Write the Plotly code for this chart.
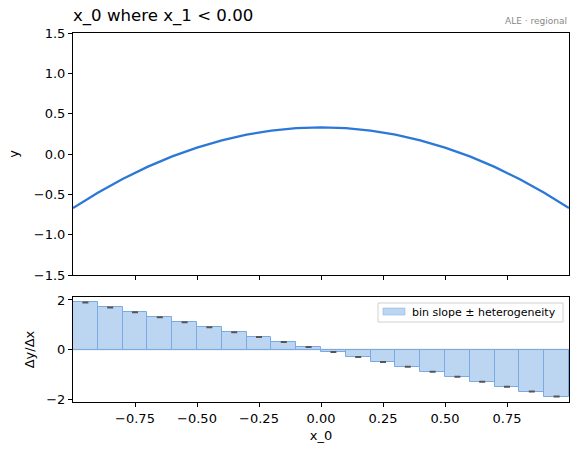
import plotly.graph_objects as go

# ALE curve (bin edges)
x_grid = [-1.0, -0.9, -0.8, -0.7, -0.6, -0.5, -0.4, -0.3, -0.2, -0.1, 0.0,
          0.1, 0.2, 0.3, 0.4, 0.5, 0.6, 0.7, 0.8, 0.9, 1.0]
ale_y = [-0.67, -0.48, -0.31, -0.16, -0.03, 0.08, 0.17, 0.24, 0.29, 0.32, 0.33,
         0.32, 0.29, 0.24, 0.17, 0.08, -0.03, -0.16, -0.31, -0.48, -0.67]

# Bin slopes
bin_centers = [-0.95, -0.85, -0.75, -0.65, -0.55, -0.45, -0.35, -0.25, -0.15, -0.05,
               0.05, 0.15, 0.25, 0.35, 0.45, 0.55, 0.65, 0.75, 0.85, 0.95]
bin_slopes = [1.9, 1.7, 1.5, 1.3, 1.1, 0.9, 0.7, 0.5, 0.3, 0.1,
              -0.1, -0.3, -0.5, -0.7, -0.9, -1.1, -1.3, -1.5, -1.7, -1.9]
bin_het = [0.01] * 20

W, H = 578, 455
xd = [73 / W, 569 / W]
y1 = [1 - 275 / H, 1 - 33 / H]
y2 = [1 - 402 / H, 1 - 297 / H]

BAR_FILL = "rgba(160,196,236,0.7)"
BAR_EDGE = "#7aaae6"

fig = go.Figure()
fig.add_trace(go.Scatter(x=x_grid, y=ale_y, mode="lines", line=dict(color="#2b78d8", width=2.3),
                         showlegend=False, xaxis="x", yaxis="y"))
fig.add_trace(go.Bar(x=bin_centers, y=bin_slopes, width=0.1, name="bin slope ± heterogeneity",
                     marker=dict(color=BAR_FILL, line=dict(color=BAR_EDGE, width=1)),
                     error_y=dict(type="data", array=bin_het, color="#555555", thickness=1.5, width=3),
                     xaxis="x2", yaxis="y2", showlegend=False))

axis_common = dict(showline=True, linecolor="black", linewidth=1, mirror=True, ticks="outside",
                   ticklen=4, tickcolor="black", showgrid=False, zeroline=False, automargin=False,
                   tickfont=dict(family="DejaVu Sans", size=13, color="black"))

# legend (drawn in paper coordinates)
lx0, lx1, ly0, ly1 = 378 / W, 563 / W, 1 - 322 / H, 1 - 303 / H

fig.update_layout(
    template="none",
    width=W, height=H, margin=dict(l=0, r=0, t=0, b=0, pad=0),
    paper_bgcolor="white", plot_bgcolor="white",
    font=dict(family="DejaVu Sans", color="black"),
    showlegend=False,
    xaxis=dict(domain=xd, range=[-1, 1], anchor="y", matches="x2", showticklabels=False,
               tickvals=[-0.75, -0.5, -0.25, 0, 0.25, 0.5, 0.75], **axis_common),
    yaxis=dict(domain=y1, range=[-1.5, 1.5], anchor="x", tickvals=[-1.5, -1.0, -0.5, 0, 0.5, 1.0, 1.5],
               ticktext=["−1.5", "−1.0", "−0.5", "0.0", "0.5", "1.0", "1.5"],
               title=dict(text="y", font=dict(size=13), standoff=12), **axis_common),
    xaxis2=dict(domain=xd, range=[-1, 1], anchor="y2",
                tickvals=[-0.75, -0.5, -0.25, 0, 0.25, 0.5, 0.75],
                ticktext=["−0.75", "−0.50", "−0.25", "0.00", "0.25", "0.50", "0.75"],
                title=dict(text="x_0", font=dict(size=13), standoff=6), **axis_common),
    yaxis2=dict(domain=y2, range=[-2.12, 2.12], anchor="x2", tickvals=[-2, 0, 2],
                ticktext=["−2", "0", "2"],
                title=dict(text="Δy/Δx", font=dict(size=13), standoff=8), **axis_common),
    bargap=0,
    shapes=[
        dict(type="line", xref="x2 domain", x0=0, x1=1, yref="y2", y0=0, y1=0,
             line=dict(color="#cfcfcf", width=1.5), layer="below"),
        dict(type="rect", xref="paper", yref="paper", x0=lx0, x1=lx1, y0=ly0, y1=ly1,
             line=dict(color="#d0d0d0", width=1), fillcolor="rgba(255,255,255,0.8)", layer="above"),
        dict(type="rect", xref="paper", yref="paper", x0=383 / W, x1=405 / W,
             y0=1 - 315 / H, y1=1 - 308 / H,
             line=dict(color=BAR_EDGE, width=0.5), fillcolor=BAR_FILL, layer="above"),
    ],
    annotations=[
        dict(text="x_0 where x_1 < 0.00", xref="paper", yref="paper", x=71 / W, y=1 - 28 / H,
             xanchor="left", yanchor="bottom", showarrow=False,
             font=dict(size=16.6, family="DejaVu Sans", color="black")),
        dict(text="ALE · regional", xref="paper", yref="paper", x=569 / W, y=1 - 28 / H,
             xanchor="right", yanchor="bottom", showarrow=False,
             font=dict(size=9, family="DejaVu Sans", color="#888888")),
        dict(text="bin slope ± heterogeneity", xref="paper", yref="paper", x=410 / W, y=1 - 312 / H,
             xanchor="left", yanchor="middle", showarrow=False,
             font=dict(size=11, family="DejaVu Sans", color="black")),
    ],
)

fig.write_html("out.html")
